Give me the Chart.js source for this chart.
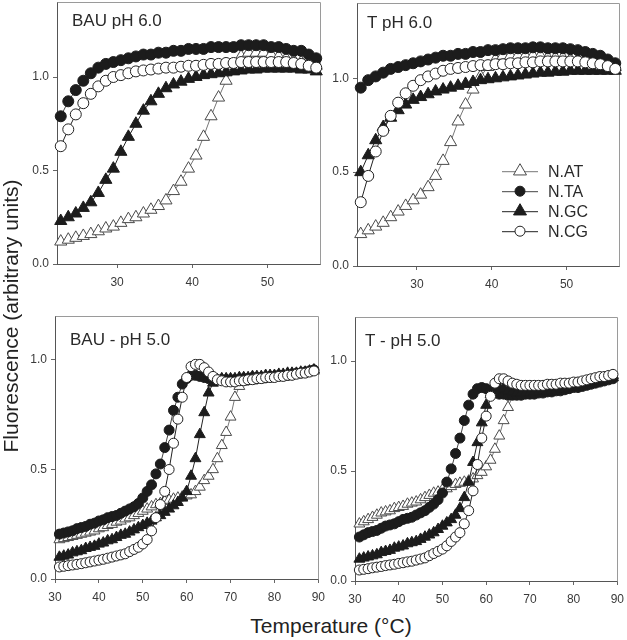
<!DOCTYPE html>
<html>
<head>
<meta charset="utf-8">
<script src="https://cdn.jsdelivr.net/npm/chart.js@4.4.1/dist/chart.umd.min.js"></script>
<style>
    body { margin: 0; width: 627px; height: 640px; background: #fff; position: relative; overflow: hidden;
           font-family: 'Liberation Sans', Arial, sans-serif; }
    canvas { position: absolute; }
    .title { position: absolute; width: 340px; height: 24px; line-height: 24px; text-align: center;
             font-size: 21px; color: #222; white-space: nowrap; }
    #ytitle { left: -159px; top: 304px; transform: rotate(-90deg); }
    #xtitle { left: 161px; top: 614px; }
</style>
</head>
<body>
<canvas id="p1"></canvas>
<canvas id="p2"></canvas>
<canvas id="p3"></canvas>
<canvas id="p4"></canvas>
<div class="title" id="ytitle">Fluorescence (arbitrary units)</div>
<div class="title" id="xtitle">Temperature (°C)</div>
<script>
// --- Data ---

const seriesNames = ["N.AT", "N.TA", "N.GC", "N.CG"];

// temperatures (°C) for the pH 6.0 panels
const tempsPH6 = [22.5, 23.5, 24.5, 25.5, 26.5, 27.5, 28.5, 29.5, 30.5, 31.5, 32.5, 33.5,
                  34.5, 35.5, 36.5, 37.5, 38.5, 39.5, 40.5, 41.5, 42.5, 43.5, 44.5, 45.5,
                  46.5, 47.5, 48.5, 49.5, 50.5, 51.5, 52.5, 53.5, 54.5, 55.5, 56.5];

// temperatures (°C) for the pH 5.0 panels
const tempsPH5 = [31, 32, 33, 34, 35, 36, 37, 38, 39, 40, 41, 42, 43, 44, 45, 46, 47, 48, 49, 50,
                  51, 52, 53, 54, 55, 56, 57, 58, 59, 60, 61, 62, 63, 64, 65, 66, 67, 68, 69, 70,
                  71, 72, 73, 74, 75, 76, 77, 78, 79, 80, 81, 82, 83, 84, 85, 86, 87, 88, 89];

// BAU pH 6.0
const bau6AT = [0.12, 0.13, 0.14, 0.15, 0.16, 0.175, 0.19, 0.20, 0.22, 0.24, 0.25, 0.27,
                0.29, 0.31, 0.34, 0.39, 0.44, 0.51, 0.58, 0.68, 0.79, 0.89, 0.98, 1.06,
                1.11, 1.13, 1.13, 1.13, 1.12, 1.11, 1.10, 1.09, 1.08, 1.07, 1.06];
const bau6TA = [0.79, 0.87, 0.93, 0.98, 1.02, 1.05, 1.07, 1.08, 1.09, 1.10, 1.11, 1.12,
                1.12, 1.13, 1.13, 1.14, 1.14, 1.15, 1.15, 1.15, 1.16, 1.16, 1.16, 1.16,
                1.17, 1.17, 1.17, 1.17, 1.16, 1.16, 1.15, 1.14, 1.14, 1.12, 1.10];
const bau6GC = [0.23, 0.25, 0.27, 0.30, 0.33, 0.38, 0.45, 0.51, 0.60, 0.68, 0.75, 0.82,
                0.87, 0.91, 0.94, 0.96, 0.975, 0.99, 1.00, 1.01, 1.015, 1.02, 1.025, 1.03,
                1.035, 1.04, 1.04, 1.045, 1.045, 1.045, 1.045, 1.045, 1.04, 1.04, 1.03];
const bau6CG = [0.63, 0.72, 0.80, 0.86, 0.91, 0.95, 0.98, 1.00, 1.01, 1.02, 1.03, 1.035,
                1.04, 1.045, 1.05, 1.05, 1.055, 1.06, 1.06, 1.065, 1.07, 1.07, 1.075, 1.075,
                1.08, 1.08, 1.08, 1.08, 1.08, 1.08, 1.08, 1.075, 1.07, 1.06, 1.05];

// T pH 6.0
const t6AT = [0.17, 0.19, 0.21, 0.23, 0.26, 0.29, 0.32, 0.35, 0.38, 0.42, 0.48, 0.56,
              0.66, 0.77, 0.86, 0.94, 1.01, 1.06, 1.10, 1.12, 1.12, 1.12, 1.12, 1.12,
              1.12, 1.11, 1.11, 1.11, 1.10, 1.10, 1.09, 1.09, 1.08, 1.07, 1.06];
const t6TA = [0.95, 0.99, 1.01, 1.03, 1.05, 1.06, 1.07, 1.08, 1.09, 1.10, 1.11, 1.12,
              1.12, 1.13, 1.13, 1.14, 1.14, 1.15, 1.15, 1.155, 1.16, 1.16, 1.16, 1.165,
              1.165, 1.16, 1.16, 1.16, 1.155, 1.15, 1.14, 1.13, 1.12, 1.10, 1.08];
const t6GC = [0.50, 0.59, 0.67, 0.74, 0.79, 0.83, 0.86, 0.885, 0.90, 0.915, 0.93, 0.94,
              0.95, 0.96, 0.97, 0.98, 0.99, 0.995, 1.00, 1.005, 1.01, 1.015, 1.02, 1.025,
              1.03, 1.03, 1.035, 1.035, 1.04, 1.04, 1.04, 1.04, 1.04, 1.04, 1.04];
const t6CG = [0.34, 0.48, 0.61, 0.72, 0.80, 0.87, 0.92, 0.96, 0.99, 1.01, 1.025, 1.04,
              1.05, 1.055, 1.06, 1.065, 1.07, 1.07, 1.075, 1.075, 1.08, 1.08, 1.085, 1.085,
              1.09, 1.09, 1.09, 1.09, 1.09, 1.09, 1.085, 1.08, 1.075, 1.065, 1.05];

// BAU - pH 5.0
const bau5AT = [0.18, 0.185, 0.19, 0.195, 0.20, 0.205, 0.21, 0.215, 0.22, 0.23,
                0.235, 0.245, 0.25, 0.26, 0.265, 0.275, 0.28, 0.29, 0.30, 0.31,
                0.32, 0.33, 0.34, 0.345, 0.355, 0.36, 0.365, 0.37, 0.375, 0.38,
                0.385, 0.40, 0.42, 0.45, 0.47, 0.50, 0.55, 0.61, 0.67, 0.74,
                0.83, 0.88, 0.90, 0.905, 0.905, 0.91, 0.91, 0.915, 0.915, 0.92,
                0.92, 0.925, 0.93, 0.93, 0.935, 0.94, 0.94, 0.945, 0.95];
const bau5TA = [0.205, 0.21, 0.215, 0.22, 0.23, 0.235, 0.24, 0.25, 0.255, 0.265,
                0.27, 0.28, 0.285, 0.29, 0.30, 0.31, 0.32, 0.33, 0.345, 0.37,
                0.40, 0.43, 0.48, 0.525, 0.60, 0.68, 0.77, 0.83, 0.89, 0.915,
                0.93, 0.93, 0.925, 0.92, 0.915, 0.91, 0.91, 0.91, 0.91, 0.91,
                0.91, 0.91, 0.915, 0.915, 0.92, 0.92, 0.92, 0.92, 0.925, 0.925,
                0.93, 0.93, 0.93, 0.935, 0.94, 0.94, 0.945, 0.95, 0.955];
const bau5GC = [0.10, 0.105, 0.11, 0.12, 0.125, 0.13, 0.14, 0.145, 0.15, 0.16,
                0.165, 0.175, 0.18, 0.19, 0.20, 0.205, 0.215, 0.225, 0.235, 0.245,
                0.255, 0.265, 0.28, 0.29, 0.305, 0.32, 0.335, 0.35, 0.37, 0.40,
                0.47, 0.55, 0.66, 0.76, 0.85, 0.895, 0.91, 0.915, 0.915, 0.915,
                0.915, 0.92, 0.92, 0.92, 0.925, 0.925, 0.925, 0.93, 0.93, 0.93,
                0.935, 0.935, 0.94, 0.94, 0.94, 0.945, 0.945, 0.95, 0.955];
const bau5CG = [0.055, 0.058, 0.061, 0.064, 0.067, 0.07, 0.074, 0.078, 0.082, 0.086,
                0.09, 0.095, 0.10, 0.105, 0.11, 0.115, 0.125, 0.135, 0.145, 0.16,
                0.18, 0.22, 0.28, 0.34, 0.40, 0.50, 0.62, 0.73, 0.83, 0.92,
                0.97, 0.98, 0.98, 0.965, 0.945, 0.925, 0.91, 0.905, 0.90, 0.90,
                0.90, 0.905, 0.905, 0.91, 0.91, 0.915, 0.915, 0.92, 0.92, 0.92,
                0.925, 0.925, 0.93, 0.93, 0.935, 0.94, 0.94, 0.945, 0.95];

// T - pH 5.0
const t5AT = [0.26, 0.27, 0.28, 0.29, 0.30, 0.31, 0.315, 0.32, 0.33, 0.335,
              0.34, 0.35, 0.355, 0.36, 0.37, 0.38, 0.39, 0.40, 0.405, 0.415,
              0.42, 0.43, 0.44, 0.445, 0.45, 0.455, 0.465, 0.48, 0.495, 0.52,
              0.55, 0.60, 0.66, 0.73, 0.79, 0.84, 0.87, 0.88, 0.88, 0.88,
              0.88, 0.88, 0.885, 0.885, 0.885, 0.89, 0.89, 0.89, 0.895, 0.895,
              0.90, 0.90, 0.905, 0.91, 0.915, 0.92, 0.925, 0.93, 0.935];
const t5TA = [0.20, 0.21, 0.22, 0.225, 0.23, 0.24, 0.25, 0.255, 0.26, 0.27,
              0.28, 0.285, 0.29, 0.30, 0.31, 0.32, 0.335, 0.35, 0.37, 0.40,
              0.45, 0.51, 0.58, 0.65, 0.73, 0.80, 0.85, 0.875, 0.88, 0.875,
              0.865, 0.855, 0.85, 0.85, 0.845, 0.845, 0.845, 0.845, 0.85, 0.85,
              0.85, 0.855, 0.855, 0.86, 0.86, 0.865, 0.865, 0.87, 0.875, 0.88,
              0.88, 0.885, 0.89, 0.895, 0.90, 0.905, 0.91, 0.915, 0.92];
const t5GC = [0.10, 0.105, 0.11, 0.115, 0.12, 0.13, 0.135, 0.14, 0.15, 0.155,
              0.16, 0.17, 0.175, 0.18, 0.19, 0.20, 0.21, 0.22, 0.235, 0.25,
              0.265, 0.28, 0.30, 0.33, 0.38, 0.45, 0.54, 0.63, 0.72, 0.80,
              0.85, 0.87, 0.88, 0.875, 0.865, 0.86, 0.855, 0.855, 0.855, 0.855,
              0.86, 0.86, 0.865, 0.865, 0.87, 0.87, 0.875, 0.875, 0.88, 0.885,
              0.885, 0.89, 0.895, 0.90, 0.905, 0.91, 0.915, 0.92, 0.925];
const t5CG = [0.05, 0.053, 0.056, 0.06, 0.063, 0.066, 0.07, 0.073, 0.076, 0.08,
              0.083, 0.087, 0.09, 0.095, 0.10, 0.105, 0.115, 0.125, 0.135, 0.145,
              0.16, 0.18, 0.20, 0.22, 0.26, 0.32, 0.41, 0.53, 0.65, 0.75,
              0.84, 0.90, 0.92, 0.92, 0.91, 0.90, 0.895, 0.89, 0.89, 0.89,
              0.89, 0.89, 0.89, 0.895, 0.895, 0.895, 0.90, 0.90, 0.90, 0.905,
              0.905, 0.91, 0.915, 0.92, 0.925, 0.93, 0.93, 0.935, 0.94];

// tick labels
const xTicksPH6 = [30, 40, 50];
const xTicksPH5 = [30, 40, 50, 60, 70, 80, 90];
const yTicks    = [0.0, 0.5, 1.0];

// --- Styles ---

const FONT = "'Liberation Sans', Arial, sans-serif";
Chart.defaults.font.family = FONT;
Chart.defaults.font.size   = 12;

// one style per series: N.AT, N.TA, N.GC, N.CG
const styles = [
    { shape: "triangle", fill: "#ffffff", stroke: "#4a4a4a", line: "#777777" },
    { shape: "circle",   fill: "#1c1c1c", stroke: "#1c1c1c", line: "#444444" },
    { shape: "triangle", fill: "#1c1c1c", stroke: "#1c1c1c", line: "#222222" },
    { shape: "circle",   fill: "#ffffff", stroke: "#222222", line: "#222222" },
];

const panels = [
    { id: "p1", label: "BAU pH 6.0",   area: [57, 1, 320, 264],   labelPos: [15, 24],
      temps: tempsPH6, xMin: 22, xMax: 57, yMax: 1.4, xTicks: xTicksPH6,
      series: [bau6AT, bau6TA, bau6GC, bau6CG], circleR: 5.5, triR: 7 },
    { id: "p2", label: "T pH 6.0",     area: [357, 2, 619, 266],  labelPos: [10, 25],
      temps: tempsPH6, xMin: 22, xMax: 57, yMax: 1.4, xTicks: xTicksPH6,
      series: [t6AT, t6TA, t6GC, t6CG], circleR: 5.5, triR: 7, legend: true },
    { id: "p3", label: "BAU - pH 5.0", area: [55, 315, 320, 579], labelPos: [15, 29],
      temps: tempsPH5, xMin: 30, xMax: 90, yMax: 1.2, xTicks: xTicksPH5,
      series: [bau5AT, bau5TA, bau5GC, bau5CG], circleR: 5, triR: 6.3 },
    { id: "p4", label: "T - pH 5.0",   area: [355, 316, 619, 581], labelPos: [10, 29],
      temps: tempsPH5, xMin: 30, xMax: 90, yMax: 1.2, xTicks: xTicksPH5,
      series: [t5AT, t5TA, t5GC, t5CG], circleR: 5, triR: 6.3 },
];

// space around the plot area inside each canvas
// (top padding has to beat half a tick label's height or Chart.js grows it)
const PAD_LEFT = 45, PAD_TOP = 10, PAD_RIGHT = 12, PAD_BOTTOM = 30;

// --- Helpers ---

function drawMarker(ctx, shape, x, y, r, fill, stroke) {
    ctx.beginPath();
    if (shape === "circle") {
        ctx.arc(x, y, r, 0, Math.PI * 2);
    } else {
        let a = 0;
        ctx.moveTo(x + Math.sin(a) * r, y - Math.cos(a) * r);
        a += Math.PI * 2 / 3;
        ctx.lineTo(x + Math.sin(a) * r, y - Math.cos(a) * r);
        a += Math.PI * 2 / 3;
        ctx.lineTo(x + Math.sin(a) * r, y - Math.cos(a) * r);
        ctx.closePath();
    }
    ctx.fillStyle   = fill;
    ctx.strokeStyle = stroke;
    ctx.lineWidth   = 1;
    ctx.fill();
    ctx.stroke();
}

// top and right edges of the box, plus the panel title
const framePlugin = {
    id: "frame",
    beforeDatasetsDraw(chart, args, opts) {
        const a   = chart.chartArea;
        const ctx = chart.ctx;
        ctx.save();
        ctx.strokeStyle = "#9a9a9a";
        ctx.lineWidth   = 1;
        ctx.beginPath();
        ctx.moveTo(Math.round(a.left) + 0.5, Math.round(a.top) + 0.5);
        ctx.lineTo(Math.round(a.right) + 0.5, Math.round(a.top) + 0.5);
        ctx.lineTo(Math.round(a.right) + 0.5, Math.round(a.bottom) + 0.5);
        ctx.stroke();
        ctx.restore();
    },
    afterDatasetsDraw(chart, args, opts) {
        const a   = chart.chartArea;
        const ctx = chart.ctx;
        ctx.save();
        ctx.font         = "17px " + FONT;
        ctx.fillStyle    = "#2a2a2a";
        ctx.textBaseline = "alphabetic";
        ctx.fillText(opts.label, a.left + opts.pos[0], a.top + opts.pos[1]);

        if (opts.legend) {
            const x0 = a.left + 145, x1 = a.left + 181, xm = a.left + 163;
            ctx.font         = "16px " + FONT;
            ctx.textBaseline = "middle";
            seriesNames.forEach((name, i) => {
                const y = a.top + 168 + i * 20;
                const s = styles[i];
                ctx.strokeStyle = s.line;
                ctx.lineWidth   = 1;
                ctx.beginPath();
                ctx.moveTo(x0, y + 0.5);
                ctx.lineTo(x1, y + 0.5);
                ctx.stroke();
                drawMarker(ctx, s.shape, xm, y, s.shape === "circle" ? 5 : 7.5, s.fill, s.stroke);
                ctx.fillStyle = "#2a2a2a";
                ctx.fillText(name, a.left + 191, y + 1);
            });
        }
        ctx.restore();
    }
};

// --- Charts ---

function buildPanel(p) {
    const [L, T, R, B] = p.area;
    const canvas = document.getElementById(p.id);
    canvas.width  = (R - L) + PAD_LEFT + PAD_RIGHT;
    canvas.height = (B - T) + PAD_TOP + PAD_BOTTOM;
    canvas.style.left = (L - PAD_LEFT) + "px";
    canvas.style.top  = (T - PAD_TOP) + "px";

    // later datasets drawn first, so N.CG sits on top and N.AT underneath
    const datasets = p.series.map((vals, i) => {
        const s = styles[i];
        return {
            label: seriesNames[i],
            data: p.temps.map((t, k) => ({ x: t, y: vals[k] })),
            showLine: true,
            borderColor: s.line,
            borderWidth: 1,
            pointStyle: s.shape,
            pointRadius: s.shape === "circle" ? p.circleR : p.triR,
            pointBackgroundColor: s.fill,
            pointBorderColor: s.stroke,
            pointBorderWidth: 1,
            order: 4 - i,
            clip: false,
        };
    });

    return new Chart(canvas, {
        type: "scatter",
        data: { datasets },
        options: {
            responsive: false,
            animation: false,
            devicePixelRatio: 1,
            events: [],
            layout: { padding: { left: 0, top: PAD_TOP, right: PAD_RIGHT, bottom: 0 } },
            plugins: {
                legend: { display: false },
                tooltip: { enabled: false },
                frame: { label: p.label, pos: p.labelPos, legend: !!p.legend },
            },
            scales: {
                x: {
                    type: "linear",
                    min: p.xMin,
                    max: p.xMax,
                    afterBuildTicks: scale => { scale.ticks = p.xTicks.map(v => ({ value: v })); },
                    afterFit: scale => { scale.height = PAD_BOTTOM; },
                    ticks: { color: "#3a3a3a", padding: 7, maxRotation: 0, callback: v => String(v) },
                    grid: { drawOnChartArea: false, drawTicks: true, tickLength: 4, color: "#666" },
                    border: { display: true, color: "#555", width: 1 },
                },
                y: {
                    type: "linear",
                    min: 0,
                    max: p.yMax,
                    afterBuildTicks: scale => { scale.ticks = yTicks.map(v => ({ value: v })); },
                    afterFit: scale => { scale.width = PAD_LEFT; },
                    ticks: { color: "#3a3a3a", padding: 4, callback: v => v.toFixed(1) },
                    grid: { drawOnChartArea: false, drawTicks: true, tickLength: 4, color: "#666" },
                    border: { display: true, color: "#555", width: 1 },
                },
            },
        },
        plugins: [framePlugin],
    });
}

panels.forEach(buildPanel);
</script>
</body>
</html>
